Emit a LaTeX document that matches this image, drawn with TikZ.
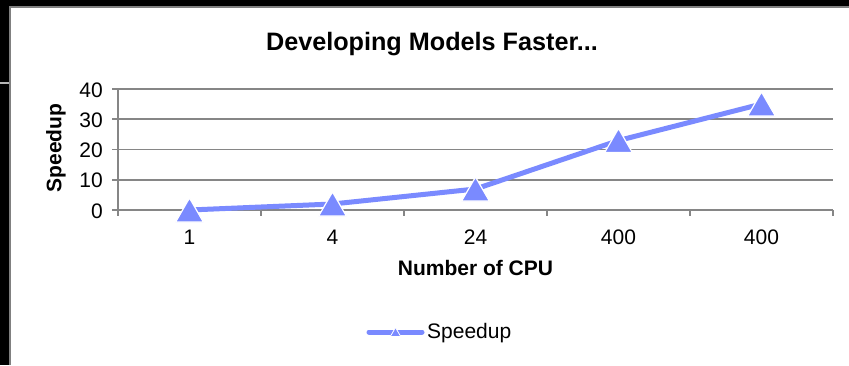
\documentclass[tikz,border=0pt]{standalone}
\usepackage{fontspec}
\setmainfont{Liberation Sans}
\usetikzlibrary{shapes.geometric}
\definecolor{serie}{RGB}{122,138,255}
\definecolor{gridc}{RGB}{134,134,134}
\definecolor{framec}{RGB}{128,128,128}
\tikzset{
  gridline/.style={draw=gridc, line width=1.6pt},
  ticklab/.style={font=\fontsize{21}{23}\selectfont, inner sep=0pt},
  axtitle/.style={font=\bfseries\fontsize{21}{23}\selectfont, inner sep=0pt},
  marker/.style={regular polygon, regular polygon sides=3, minimum size=32pt, inner sep=0pt,
    fill=serie, draw=white, line width=1.2pt, yshift=-4pt},
  smallmarker/.style={regular polygon, regular polygon sides=3, minimum size=12pt, inner sep=0pt,
    fill=serie, draw=white, line width=0.8pt, yshift=-1.5pt},
  serieline/.style={draw=serie, line width=5pt, line join=round}
}
\begin{document}
\begin{tikzpicture}[x=1pt,y=-1pt]
\useasboundingbox (0,0) rectangle (849,365);
\fill[white] (0,0) rectangle (849,365);
% frame
\fill[black] (0,0) rectangle (849,6);
\fill[black] (0,0) rectangle (10,365);
\draw[framec, line width=2pt] (10,365) -- (10,6.5) -- (849,6.5);
\draw[gridc!60, line width=2pt] (0,82.5) -- (9,82.5);
% title
\node[font=\bfseries\fontsize{25.2}{29}\selectfont, inner sep=0pt] (title) at (432,44) {Developing Models Faster...};
% gridlines and axes
\foreach \v/\lab in {0/0,10/10,20/20,30/30,40/40}{
  \draw[gridline] (112,{210-3.025*\v}) -- (833,{210-3.025*\v});
  \node[ticklab, anchor=east] at (103,{210-3.025*\v+1}) {\lab};
}
\draw[gridline] (118,89) -- (118,216);
\foreach \x in {261,404,547,690,833}{
  \draw[gridline] (\x,210) -- (\x,216);
}
\foreach \x/\lab in {189.5/1,332.5/4,475.5/24,618.5/400,761.5/400}{
  \node[ticklab] at (\x,237) {\lab};
}
\node[axtitle] (xt) at (475.5,268) {Number of CPU};
\node[axtitle, rotate=90] (yt) at (56,148) {Speedup};
% data
\coordinate (p1) at (189.5,210);
\coordinate (p2) at (332.5,204);
\coordinate (p3) at (475.5,189);
\coordinate (p4) at (618.5,140.5);
\coordinate (p5) at (761.5,104);
\draw[serieline] (p1) -- (p2) -- (p3) -- (p4) -- (p5);
\foreach \i in {1,...,5}{ \node[marker] (m\i) at (p\i) {}; }
% legend
\coordinate (l1) at (369,332);
\coordinate (l2) at (422,332);
\draw[serieline, line cap=round] (l1) -- (l2);
\node[smallmarker] (lm) at (395.5,332) {};
\node[ticklab, anchor=west] (lt) at (427,333) {Speedup};
\end{tikzpicture}
\end{document}
